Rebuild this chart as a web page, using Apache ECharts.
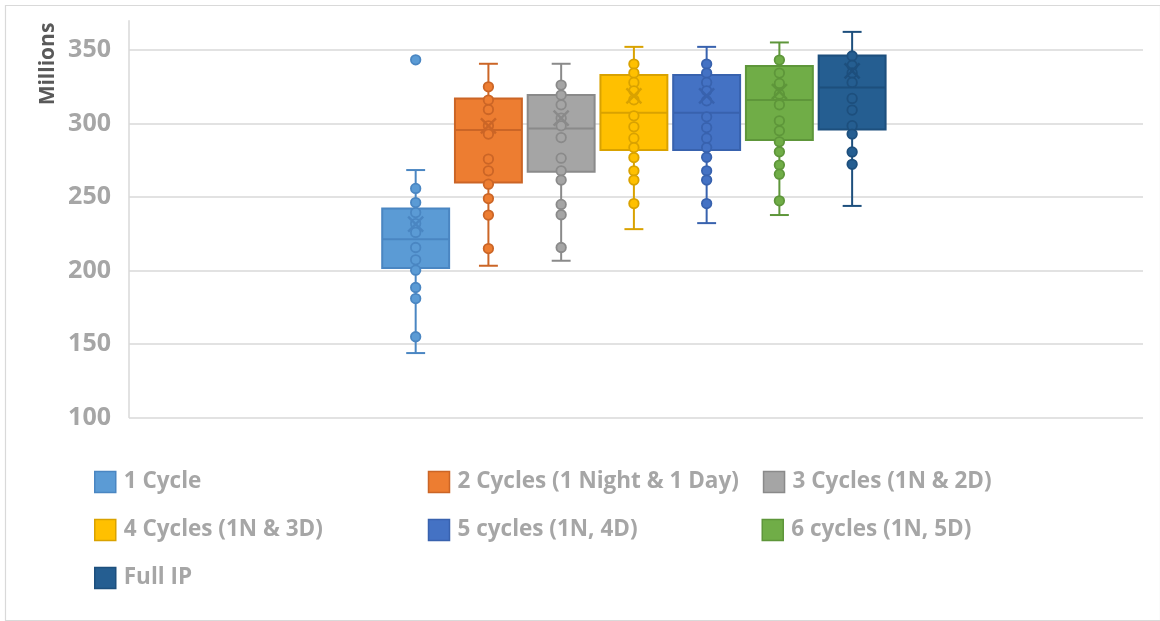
<!DOCTYPE html>
<html>
<head>
<meta charset="utf-8">
<script src="https://cdn.jsdelivr.net/npm/echarts@6/dist/echarts.min.js"></script>
<style>
html,body{margin:0;padding:0;background:#fff;}
#chart{width:1160px;height:621px;}
</style>
</head>
<body>
<div id="chart"></div>
<script>
// ---- data ----
const categories = ['1 Cycle', '2 Cycles (1 Night & 1 Day)', '3 Cycles (1N & 2D)', '4 Cycles (1N & 3D)', '5 cycles (1N, 4D)', '6 cycles (1N, 5D)', 'Full IP'];
const minVals    = [143.9, 203.3, 206.7, 228.2, 232.3, 237.8, 244.0];
const q1Vals     = [201.7, 259.9, 267.2, 282.0, 282.0, 288.8, 296.0];
const medianVals = [221.4, 295.6, 296.7, 307.3, 307.3, 316.0, 324.5];
const q3Vals     = [242.3, 317.0, 319.4, 333.0, 333.0, 339.1, 346.4];
const maxVals    = [268.4, 340.7, 340.7, 352.2, 352.2, 355.2, 362.4];
const meanVals   = [231.6, 298.5, 303.7, 318.9, 318.9, 321.8, 335.9];
const pts1 = [343.4, 255.9, 246.3, 239.5, 232.0, 226.0, 215.7, 207.3, 200.3, 188.5, 181.0, 155.0];
const pts2 = [325.0, 316.0, 309.6, 298.5, 292.9, 275.9, 267.9, 258.8, 249.0, 237.8, 215.0];
const pts3 = [326.2, 319.4, 312.8, 303.7, 298.5, 290.5, 276.5, 267.9, 261.6, 245.0, 238.0, 215.7];
const pts4 = [340.5, 334.4, 328.0, 322.3, 316.2, 305.3, 297.8, 290.1, 283.7, 276.9, 267.9, 261.6, 245.6];
const pts5 = [340.5, 334.4, 328.0, 322.3, 315.5, 304.6, 297.3, 290.1, 283.7, 277.1, 267.9, 261.6, 245.6];
const pts6 = [343.2, 334.4, 327.3, 320.0, 312.8, 301.9, 295.1, 287.6, 280.8, 271.8, 265.6, 247.5];
const pts7 = [346.0, 339.6, 334.5, 328.0, 317.1, 309.2, 298.6, 292.9, 280.7, 272.3];
const pointSets = [pts1, pts2, pts3, pts4, pts5, pts6, pts7];
const yTicks = [100, 150, 200, 250, 300, 350];
const yMin = 100, yMax = 370, yStep = 50;

// ---- styles ----
const fills   = ['#5B9BD5', '#ED7D31', '#A5A5A5', '#FFC000', '#4472C4', '#70AD47', '#255E91'];
const strokes = ['#4A86C2', '#CB6526', '#8A8A8A', '#D9A200', '#3862AE', '#5E963A', '#1D4F7D'];
const textGray = '#A6A6A6';
const lineGray = '#D9D9D9';
const FONT = '"Open Sans", "DejaVu Sans", sans-serif';

function boxRenderer(i) {
  return function (params, api) {
    const x = api.value(0);
    const pMin = api.coord([x, api.value(1)]);
    const pQ1 = api.coord([x, api.value(2)]);
    const pMed = api.coord([x, api.value(3)]);
    const pQ3 = api.coord([x, api.value(4)]);
    const pMax = api.coord([x, api.value(5)]);
    const band = api.size([1, 0])[0];
    const hw = band * 0.46, cw = band * 0.13;
    const cx = pMed[0];
    const ls = { stroke: strokes[i], lineWidth: 2 };
    return {
      type: 'group',
      children: [
        { type: 'line', shape: { x1: cx, y1: pQ3[1], x2: cx, y2: pMax[1] }, style: ls },
        { type: 'line', shape: { x1: cx, y1: pQ1[1], x2: cx, y2: pMin[1] }, style: ls },
        { type: 'line', shape: { x1: cx - cw, y1: pMax[1], x2: cx + cw, y2: pMax[1] }, style: ls },
        { type: 'line', shape: { x1: cx - cw, y1: pMin[1], x2: cx + cw, y2: pMin[1] }, style: ls },
        { type: 'rect', shape: { x: cx - hw, y: pQ3[1], width: 2 * hw, height: pQ1[1] - pQ3[1] },
          style: { fill: fills[i], stroke: strokes[i], lineWidth: 2 } },
        { type: 'line', shape: { x1: cx - hw, y1: pMed[1], x2: cx + hw, y2: pMed[1] }, style: ls }
      ]
    };
  };
}
function meanRenderer(i) {
  return function (params, api) {
    const p = api.coord([api.value(0), api.value(1)]);
    const s = 7.5;
    const ls = { stroke: strokes[i], lineWidth: 2.4 };
    return {
      type: 'group',
      children: [
        { type: 'line', shape: { x1: p[0] - s, y1: p[1] - s, x2: p[0] + s, y2: p[1] + s }, style: ls },
        { type: 'line', shape: { x1: p[0] - s, y1: p[1] + s, x2: p[0] + s, y2: p[1] - s }, style: ls }
      ]
    };
  };
}

const series = [];
categories.forEach(function (name, i) {
  series.push({
    name: name, type: 'custom', xAxisIndex: 1, yAxisIndex: 1, z: 2,
    itemStyle: { color: fills[i] },
    renderItem: boxRenderer(i),
    encode: { x: 0, y: [1, 2, 3, 4, 5] },
    data: [[i, minVals[i], q1Vals[i], medianVals[i], q3Vals[i], maxVals[i]]],
    silent: true
  });
});
categories.forEach(function (name, i) {
  series.push({
    name: name, type: 'scatter', xAxisIndex: 1, yAxisIndex: 1, z: 3,
    symbol: 'circle', symbolSize: 9.5,
    itemStyle: { color: fills[i], borderColor: strokes[i], borderWidth: 1.8, opacity: 1 },
    data: pointSets[i].map(function (v) { return [i, v]; }),
    silent: true
  });
});
categories.forEach(function (name, i) {
  series.push({
    name: name, type: 'custom', xAxisIndex: 1, yAxisIndex: 1, z: 4,
    renderItem: meanRenderer(i),
    encode: { x: 0, y: 1 },
    data: [[i, meanVals[i]]],
    silent: true
  });
});

const chart = echarts.init(document.getElementById('chart'), null, { renderer: 'canvas' });
chart.setOption({
  animation: false,
  backgroundColor: '#fff',
  grid: [
    { left: 129, right: 17, top: 20.7, bottom: 203.4 },
    { left: 379.3, width: 509.2, top: 20.7, bottom: 203.4 }
  ],
  xAxis: [
    { type: 'value', gridIndex: 0, show: false, min: 0, max: 1 },
    { type: 'category', gridIndex: 1, show: false, data: categories }
  ],
  yAxis: [
    {
      type: 'value', gridIndex: 0, min: yMin, max: yMax, interval: yStep,
      axisLine: { show: true, lineStyle: { color: lineGray, width: 1.5 } },
      axisTick: { show: false },
      splitLine: { show: true, showMaxLine: false, lineStyle: { color: lineGray, width: 1.5 } },
      axisLabel: { showMaxLabel: false, margin: 18, color: textGray, fontSize: 25, fontWeight: 'bold', fontFamily: FONT }
    },
    { type: 'value', gridIndex: 1, min: yMin, max: yMax, show: false }
  ],
  legend: {
    left: 94, top: 470, width: 1000, padding: 0,
    itemWidth: 21, itemHeight: 21, itemGap: 24,
    selectedMode: false,
    textStyle: { color: textGray, fontSize: 22.5, fontWeight: 'bold', fontFamily: FONT, width: 280, lineHeight: 24, padding: [0, 0, 0, 3] },
    data: categories.map(function (n, i) {
      return { name: n, icon: 'rect', itemStyle: { color: fills[i], borderColor: strokes[i], borderWidth: 1.5 } };
    })
  },
  graphic: [
    { type: 'rect', left: 3, top: 3, shape: { width: 1155, height: 615 },
      style: { fill: 'none', stroke: lineGray, lineWidth: 1.2 }, silent: true },
    { type: 'text', x: 48, y: 64, rotation: Math.PI / 2,
      style: { text: 'Millions', fill: '#595959', font: 'bold 21px ' + FONT, align: 'center', verticalAlign: 'middle' }, silent: true }
  ],
  series: series
});
</script>
</body>
</html>
